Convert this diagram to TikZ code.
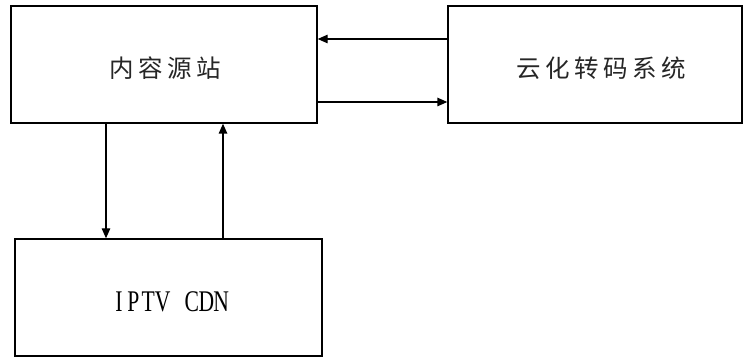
\documentclass[tikz,border=0pt]{standalone}
\usepackage{fontspec}
\setmainfont{Liberation Serif}
\newfontfamily\cjk{Noto Sans CJK SC}
\usetikzlibrary{arrows.meta}
\tikzset{
  box/.style={draw, line width=1.4pt, inner sep=0pt, anchor=center},
  arr/.style={line width=1.4pt, -{Triangle[length=10pt,width=8.5pt]}},
  cjklabel/.style={font=\cjk\fontsize{24.5pt}{26pt}\selectfont, text=black!85},
  latlabel/.style={font=\fontsize{30pt}{32pt}\selectfont, text=black, inner sep=0pt}
}
\newcommand{\gapk}{\kern4.5pt}
\newcommand{\hw}[1]{\makebox[14.6pt]{\scalebox{0.72}[1]{#1}}}
\begin{document}
\begin{tikzpicture}[x=1pt,y=-1pt]
\useasboundingbox (0,0) rectangle (747,358);
\node[box, minimum width=306pt, minimum height=117pt] (A) at (164,64.5) {};
\node[box, minimum width=294pt, minimum height=117pt] (B) at (595,64.5) {};
\node[box, minimum width=307pt, minimum height=117pt] (C) at (168.5,297.5) {};
\node[cjklabel] (tA) at (165,68.5) {内\gapk 容\gapk 源\gapk 站};
\node[cjklabel] (tB) at (601,68.5) {云\gapk 化\gapk 转\gapk 码\gapk 系\gapk 统};
\node[latlabel] (tC) at (170,302) {\hw{I}\hw{P}\hw{T}\hw{V}\hw{\,}\hw{C}\hw{D}\hw{N}};
\draw[arr] ([yshift=25.5pt]B.west) -- ([yshift=25.5pt]A.east);
\draw[arr] ([yshift=-37.5pt]A.east) -- ([yshift=-37.5pt]B.west);
\draw[arr] ([xshift=-58pt]A.south) -- ([xshift=-62.5pt]C.north);
\draw[arr] ([xshift=54.5pt]C.north) -- ([xshift=59pt]A.south);
\end{tikzpicture}
\end{document}
